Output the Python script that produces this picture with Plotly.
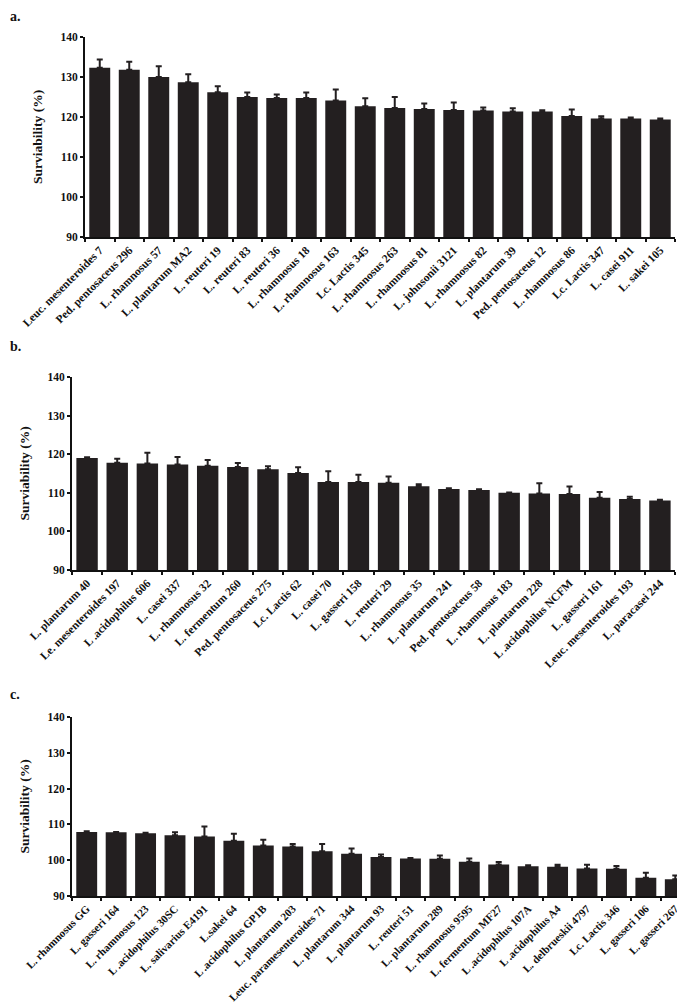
import plotly.graph_objects as go

# ---------------- data ----------------
labels_a = ["Leuc. mesenteroides 7", "Ped. pentosaceus 296", "L. rhamnosus 57", "L. plantarum MA2",
            "L. reuteri 19", "L. reuteri 83", "L. reuteri 36", "L. rhamnosus 18", "L. rhamnosus 163",
            "Lc. Lactis 345", "L. rhamnosus 263", "L. rhamnosus 81", "L. johnsonii 3121",
            "L. rhamnosus 82", "L. plantarum 39", "Ped. pentosaceus 12", "L. rhamnosus 86",
            "Lc. Lactis 347", "L. casei 911", "L. sakei 105"]
values_a = [132.3, 131.8, 130.0, 128.7, 126.2, 125.0, 124.75, 124.75, 124.1, 122.7,
            122.25, 122.0, 121.75, 121.6, 121.4, 121.4, 120.25, 119.6, 119.6, 119.4]
errors_a = [2.1, 2.0, 2.7, 2.0, 1.5, 1.1, 0.9, 1.4, 2.8, 2.0,
            2.75, 1.4, 1.9, 0.8, 0.8, 0.3, 1.6, 0.6, 0.25, 0.2]

labels_b = ["L. plantarum 40", "Le. mesenteroides 197", "L .acidophilus 606", "L. casei 337",
            "L. rhamnosus 32", "L. fermentum 260", "Ped. pentosaceus 275", "Lc. Lactis 62",
            "L. casei 70", "L. gasseri 158", "L. reuteri 29", "L. rhamnosus 35", "L. plantarum 241",
            "Ped. pentosaceus 58", "L. rhamnosus 183", "L. plantarum 228", "L .acidophilus NCFM",
            "L. gasseri 161", "Leuc. mesenteroides 193", "L. paracasei 244"]
values_b = [119.0, 117.8, 117.6, 117.3, 117.0, 116.7, 116.1, 115.1, 112.8, 112.8,
            112.6, 111.7, 111.0, 110.7, 110.0, 109.8, 109.7, 108.7, 108.4, 108.0]
errors_b = [0.2, 1.0, 2.8, 2.0, 1.5, 1.0, 0.8, 1.5, 2.8, 1.9,
            1.6, 0.5, 0.2, 0.2, 0.1, 2.7, 1.9, 1.5, 0.6, 0.2]

labels_c = ["L. rhamnosus GG", "L. gasseri 164", "L. rhamnosus 123", "L .acidophilus 30SC",
            "L. salivarius E4191", "L.sakei 64", "L .acidophilus GP1B", "L. plantarum 203",
            "Leuc. paramesenteroides 71", "L. plantarum 344", "L. plantarum 93", "L. reuteri 51",
            "L. plantarum 289", "L. rhamnosus 9595", "L. fermentum MF27", "L .acidophilus 107A",
            "L .acidophilus A4", "L. delbrueskii 4797", "Lc. Lactis 346", "L. gasseri 106",
            "L. gasseri 267"]
values_c = [107.9, 107.8, 107.5, 107.0, 106.6, 105.4, 104.1, 103.8, 102.5, 101.8,
            100.9, 100.5, 100.4, 99.6, 98.8, 98.3, 98.2, 97.7, 97.6, 95.1, 94.7]
errors_c = [0.2, 0.1, 0.2, 0.8, 2.8, 2.0, 1.6, 0.7, 2.0, 1.5,
            0.7, 0.1, 0.9, 0.9, 0.7, 0.3, 0.5, 1.0, 0.8, 1.4, 1.0]

y_ticks = [90, 100, 110, 120, 130, 140]
y_title = "Surviability (%)"
panel_letters = ["a.", "b.", "c."]

# ---------------- figure ----------------
W, H = 685, 1003
BAR = "#231f20"
FONT = "Liberation Serif"
INK = "#111111"

fig = go.Figure()

panels = [
    (labels_a, values_a, errors_a, "x", "y"),
    (labels_b, values_b, errors_b, "x2", "y2"),
    (labels_c, values_c, errors_c, "x3", "y3"),
]
for labs, vals, errs, xa, ya in panels:
    fig.add_trace(go.Bar(
        x=labs, y=vals, xaxis=xa, yaxis=ya,
        marker=dict(color=BAR, line=dict(width=0)),
        width=0.71,
        error_y=dict(type="data", array=errs, arrayminus=[0] * len(errs), symmetric=False,
                     color=BAR, thickness=2, width=3),
        showlegend=False,
    ))

def px_x(x):
    return x / W

def px_y(y):
    return 1 - y / H

# (left, right, top, bottom, label font size) in pixels
geo = [
    (77, 667, 29, 229, 11.5),
    (64, 667, 369, 562, 11.5),
    (64, 682, 709, 888, 11),
]

layout = dict(
    template="none",
    width=W, height=H,
    margin=dict(l=0, r=0, t=0, b=0),
    paper_bgcolor="white", plot_bgcolor="white",
    font=dict(family=FONT, color=INK),
)
for i, (l, r, t, b, fs) in enumerate(geo):
    sfx = "" if i == 0 else str(i + 1)
    labs = panels[i][0]
    n = len(labs)
    layout["xaxis" + sfx] = dict(
        domain=[px_x(l), px_x(r)], anchor="y" + sfx, type="category",
        range=[-0.5, n - 0.5], automargin=False,
        tickvals=labs, ticktext=[f"<b>{s}</b>" for s in labs],
        showline=True, linecolor=INK, linewidth=2,
        ticks="outside", ticklen=3, tickwidth=2, tickcolor=INK,
        tickson="boundaries",
        tickangle=-45, tickfont=dict(family=FONT, size=fs, color=INK),
        showgrid=False, zeroline=False, fixedrange=True,
    )
    layout["yaxis" + sfx] = dict(
        domain=[px_y(b), px_y(t)], anchor="x" + sfx, automargin=False,
        range=[90, 140], tickvals=y_ticks, ticktext=[f"<b>{v}</b>" for v in y_ticks],
        showline=True, linecolor=INK, linewidth=2,
        ticks="outside", ticklen=3, tickwidth=2, tickcolor=INK,
        tickfont=dict(family=FONT, size=11.5, color=INK),
        showgrid=False, zeroline=False, fixedrange=True,
    )

fig.update_layout(**layout)

# y-axis titles
for i, (l, r, t, b, fs) in enumerate(geo):
    fig.add_annotation(text=f"<b>{y_title}</b>", x=px_x(l - 48), y=px_y((t + b) / 2),
                       xref="paper", yref="paper", xanchor="center", yanchor="middle",
                       textangle=-90, showarrow=False,
                       font=dict(family=FONT, size=13.5, color=INK))

# panel letters
letter_y = [8, 338, 686]
for letter, ly in zip(panel_letters, letter_y):
    fig.add_annotation(text=f"<b>{letter}</b>", x=0, y=px_y(ly), xref="paper", yref="paper",
                       xanchor="left", yanchor="middle", showarrow=False,
                       font=dict(family=FONT, size=14, color=INK))

fig.write_html("out.html")
